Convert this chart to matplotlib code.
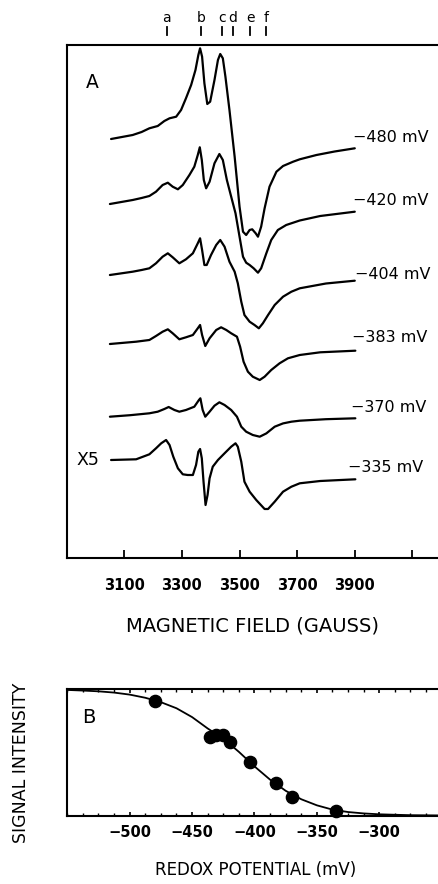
import matplotlib
matplotlib.use("Agg")
import matplotlib.pyplot as plt
import numpy as np

plt.rcParams['font.family'] = ['DejaVu Sans']

# ---------------- Panel A data: EPR spectra (field in gauss, signal relative to trace start) -------------
field_m480 = [3054, 3129, 3160, 3187, 3216, 3239, 3257, 3280, 3297, 3314, 3332, 3347, 3357, 3363, 3370,
              3378, 3388, 3398, 3413, 3425, 3433, 3442, 3451, 3465, 3483, 3500, 3512, 3523, 3535, 3544,
              3556, 3564, 3575, 3587, 3604, 3628, 3651, 3686, 3709, 3767, 3830, 3900]
sig_m480 = [0, 4, 7, 10.7, 13, 18, 20.7, 22.3, 29, 40.7, 54, 69, 84, 90.7, 82.3,
            55.7, 35, 37.3, 59, 79, 85, 80.7, 62.3, 29, -17.7, -67.7, -92.7, -96, -91, -90.3,
            -94.3, -97.7, -87.7, -69.3, -47.7, -32.7, -27, -22.7, -20.3, -16, -12.5, -9.3]

field_m420 = [3050, 3129, 3160, 3187, 3210, 3233, 3251, 3268, 3286, 3303, 3326, 3343, 3355, 3362, 3369,
              3376, 3384, 3396, 3413, 3430, 3442, 3456, 3471, 3486, 3500, 3512, 3523, 3535, 3549, 3564,
              3575, 3593, 3610, 3633, 3662, 3709, 3780, 3900]
sig_m420 = [0, 4, 6, 8, 12.3, 19, 21.3, 17.3, 14.7, 19, 29, 37.3, 49, 56.7, 44,
            24, 15.7, 22.3, 40.7, 50, 44, 24, 7.3, -9.3, -32.7, -52.7, -58.7, -61, -64.3, -68.7,
            -64.3, -49.3, -36, -26, -21, -16.5, -12, -7.7]

field_m404 = [3050, 3129, 3160, 3187, 3210, 3233, 3251, 3268, 3291, 3314, 3338, 3355, 3363, 3370, 3378,
              3386, 3401, 3419, 3433, 3448, 3465, 3483, 3494, 3506, 3517, 3535, 3552, 3567, 3581, 3599,
              3622, 3651, 3680, 3709, 3800, 3900]
sig_m404 = [0, 3.3, 5, 6.7, 11.7, 18.3, 21.7, 17.7, 11.7, 15.7, 21.7, 31.7, 36.7, 25, 10,
            10, 20, 30, 35, 28.3, 13.3, 3.3, -8.3, -26.7, -40, -46.7, -50, -53.3, -48.3, -40,
            -30, -21.7, -16.7, -13.3, -8.5, -5.7]

field_m383 = [3050, 3141, 3187, 3210, 3233, 3251, 3268, 3291, 3314, 3338, 3355, 3363, 3370, 3381, 3396,
              3419, 3436, 3454, 3471, 3491, 3502, 3514, 3529, 3546, 3570, 3587, 3610, 3639, 3668, 3709,
              3780, 3902]
sig_m383 = [0, 2.3, 4, 8, 12.3, 14.7, 10.7, 4.7, 6.7, 9, 15.7, 19, 9, -2, 5.7,
            14, 16.7, 14, 10.7, 7.3, -2.7, -17.7, -27.7, -32.7, -36, -32.7, -26, -19.3, -14.3, -11,
            -8.3, -6.7]

field_m370 = [3050, 3120, 3187, 3216, 3239, 3254, 3274, 3291, 3314, 3343, 3359, 3364, 3372, 3381, 3396,
              3413, 3430, 3448, 3471, 3491, 3506, 3523, 3546, 3570, 3593, 3622, 3651, 3680, 3709, 3800,
              3902]
sig_m370 = [0, 1.5, 3.4, 5, 7.7, 9.7, 6.7, 5, 6.7, 10, 16.7, 18.4, 6.7, 0, 5,
            11, 14.4, 11.7, 6.7, 0, -10, -15, -18.3, -20, -16.7, -10, -6.7, -5, -4, -2.5,
            -1.6]

field_m335 = [3054, 3141, 3187, 3210, 3228, 3245, 3257, 3270, 3286, 3303, 3320, 3338, 3349, 3357, 3363,
              3369, 3375, 3382, 3389, 3396, 3407, 3425, 3448, 3471, 3486, 3494, 3506, 3517, 3535, 3558,
              3587, 3599, 3622, 3651, 3680, 3709, 3780, 3902]
sig_m335 = [0, 0.7, 5.7, 11.7, 16.7, 20, 15, 3.3, -8.3, -14.3, -15, -15, -5, 8.3, 11,
            1.7, -21.7, -45, -35, -18.3, -6.7, 0, 6.7, 13.3, 16.7, 13.3, -1.7, -21.7, -31.7, -40,
            -49, -49, -41.7, -31.7, -26.7, -23.3, -21, -19.3]

spectrum_labels = ["\u2212480 mV", "\u2212420 mV", "\u2212404 mV", "\u2212383 mV", "\u2212370 mV", "\u2212335 mV"]
feature_letters = ["a", "b", "c", "d", "e", "f"]
feature_fields = [3247, 3367, 3438, 3477, 3537, 3593]
field_ticks = [3100, 3300, 3500, 3700, 3900, 4100]
field_ticklabels = ["3100", "3300", "3500", "3700", "3900", ""]

# ---------------- Panel B data: redox titration ----------------
redox_mv = [-480, -436, -431, -425, -420, -404, -383, -370, -335]
intensity = [0.91, 0.62, 0.635, 0.64, 0.585, 0.427, 0.261, 0.15, 0.04]
fit_mv = [-550, -537.5, -525, -512.5, -500, -487.5, -475, -462.5, -450, -437.5, -425, -412.5, -400,
          -387.5, -375, -362.5, -350, -337.5, -325, -312.5, -300, -275, -250]
fit_val = [0.995, 0.990, 0.984, 0.974, 0.958, 0.933, 0.898, 0.85, 0.78, 0.69, 0.61, 0.505, 0.39,
           0.285, 0.197, 0.13, 0.082, 0.048, 0.029, 0.018, 0.011, 0.004, 0.002]
redox_ticks = [-500, -450, -400, -350, -300]
redox_ticklabels = ["\u2212500", "\u2212450", "\u2212400", "\u2212350", "\u2212300"]

W, H = 439, 884
fig = plt.figure(figsize=(W / 100, H / 100), dpi=100)

# ---------------- Panel A ----------------
axA = fig.add_axes([66.7 / W, (H - 558) / H, (470 - 66.7) / W, 513 / H])
axA.set_xlim(2900, 4300)
axA.set_ylim(0, 513)

traces = [(field_m480, sig_m480), (field_m420, sig_m420), (field_m404, sig_m404),
          (field_m383, sig_m383), (field_m370, sig_m370), (field_m335, sig_m335)]
offsets = [419, 354, 283, 214, 141.3, 98]
label_pos = [(3893, 416.3), (3893, 353), (3900, 278.7), (3892, 216.3), (3888, 146.3), (3877, 86.3)]

for (f, s), off, lab, (lx, ly) in zip(traces, offsets, spectrum_labels, label_pos):
    axA.plot(f, np.array(s) + off, color='black', lw=1.6, solid_joinstyle='round', solid_capstyle='round')
    axA.text(lx, ly, lab, fontsize=11.5, ha='left', va='baseline')

axA.text(2933, 93, "X5", fontsize=12.5, ha='left', va='baseline')
axA.text(2967, 469.7, "A", fontsize=13.5, ha='left', va='baseline')

for letter, fx in zip(feature_letters, feature_fields):
    axA.plot([fx, fx], [523, 531], color='black', lw=1.3, clip_on=False)
    axA.text(fx, 536.3, letter, fontsize=10, ha='center', va='baseline', clip_on=False)

for side in ['left', 'top', 'bottom', 'right']:
    axA.spines[side].set_linewidth(1.5)
axA.set_yticks([])
axA.set_xticks(field_ticks)
axA.set_xticklabels(field_ticklabels, fontsize=10.5, fontweight='bold')
axA.tick_params(axis='x', direction='in', length=5.5, width=1.3, pad=14.5)

fig.text(252.5 / W, (H - 631) / H, "MAGNETIC FIELD (GAUSS)", fontsize=14, ha='center', va='baseline')

# ---------------- Panel B ----------------
axB = fig.add_axes([67.3 / W, (H - 815.7) / H, 374.4 / W, 126.4 / H])
axB.set_xlim(-550, -250)
axB.set_ylim(0, 1)
axB.plot(fit_mv, fit_val, color='black', lw=1.3, solid_joinstyle='round')
axB.plot(redox_mv, intensity, 'o', color='black', markersize=8.8, clip_on=False)
axB.text(-538.5, 0.731, "B", fontsize=14, ha='left', va='baseline')

for side in ['left', 'top', 'bottom', 'right']:
    axB.spines[side].set_linewidth(1.5)
axB.set_yticks([])
axB.set_xticks(redox_ticks)
axB.set_xticklabels(redox_ticklabels, fontsize=10.5, fontweight='bold')
axB.set_xticks(np.arange(-550, -249, 12.5), minor=True)
axB.tick_params(axis='x', which='major', direction='in', length=3.2, width=1.2, top=True, pad=6.5)
axB.tick_params(axis='x', which='minor', direction='in', length=2.0, width=1.0, top=True)

fig.text(255.8 / W, (H - 875) / H, "REDOX POTENTIAL (mV)", fontsize=12, ha='center', va='baseline')
fig.text(21 / W, (H - 763) / H, "SIGNAL INTENSITY", fontsize=12.5, rotation=90, ha='center', va='center')

fig.savefig("out.png", dpi=100)
